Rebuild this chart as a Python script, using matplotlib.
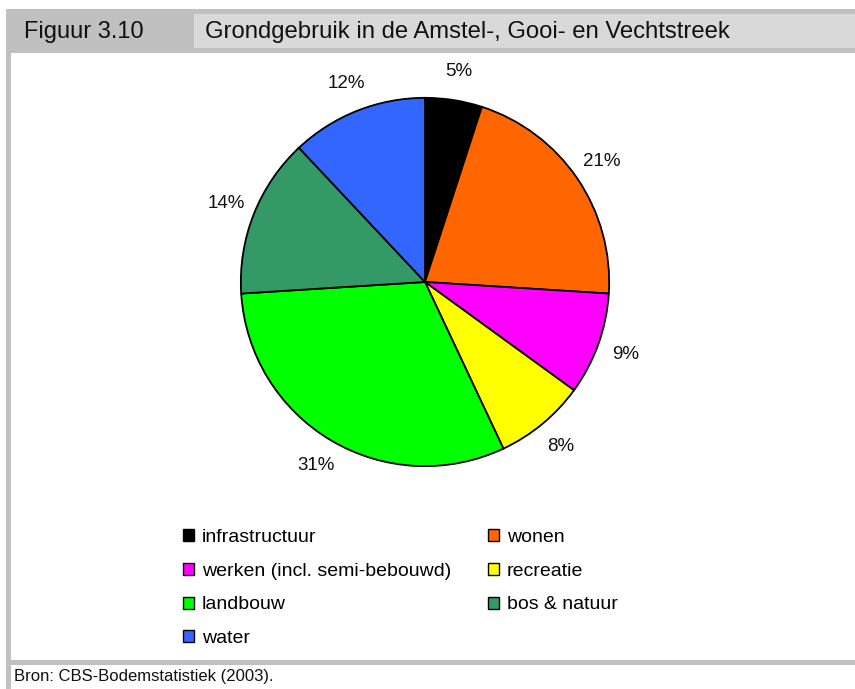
import matplotlib
matplotlib.use("Agg")
import matplotlib.pyplot as plt
from matplotlib.patches import Rectangle, Patch

# Land use shares (%)
categories = ["infrastructuur", "wonen", "werken (incl. semi-bebouwd)", "recreatie",
              "landbouw", "bos & natuur", "water"]
shares = [5, 21, 9, 8, 31, 14, 12]
colors = ["#000000", "#ff6600", "#ff00ff", "#ffff00", "#00ff00", "#339966", "#3366ff"]

W, H = 855, 689
fig = plt.figure(figsize=(W / 100, H / 100), dpi=100)
fig.patch.set_facecolor("white")


def px_rect(x0, y0, x1, y1, color):
    """Rectangle given in pixel coordinates measured from the top-left corner."""
    fig.patches.append(Rectangle((x0 / W, 1 - y1 / H), (x1 - x0) / W, (y1 - y0) / H,
                                 transform=fig.transFigure, facecolor=color,
                                 edgecolor="none", zorder=0))


sans = ["Liberation Sans", "DejaVu Sans"]

# Header band
px_rect(6, 9, W, 53, "#c0c0c0")
px_rect(194, 14, W, 48, "#d9d9d9")
fig.text(24 / W, 1 - 32 / H, "Figuur 3.10", family=sans, fontsize=17,
         va="center", ha="left", color="#111111")
fig.text(205 / W, 1 - 32 / H, "Grondgebruik in de Amstel-, Gooi- en Vechtstreek",
         family=sans, fontsize=17.2, va="center", ha="left", color="#111111")

# Frame lines
px_rect(6, 53, 11, 689, "#c0c0c0")
px_rect(6, 660, W, 665, "#c0c0c0")
fig.text(14 / W, 1 - 677 / H, "Bron: CBS-Bodemstatistiek (2003).", family=sans,
         fontsize=12, va="center", ha="left", color="#111111")

# Pie
cx, cy, r = 425, 282, 186
ax = fig.add_axes([(cx - r) / W, 1 - (cy + r) / H, 2 * r / W, 2 * r / H])
wedges, texts, autotexts = ax.pie(
    shares, colors=colors, startangle=90, counterclock=False, radius=1,
    autopct=lambda p: f"{p:.0f}%", pctdistance=1.16,
    wedgeprops=dict(edgecolor="black", linewidth=1.3),
    textprops=dict(fontsize=13.5, family=sans, color="#111111"))
ax.set_xlim(-1.01, 1.01)
ax.set_ylim(-1.01, 1.01)
ax.set_aspect("equal")
ax.axis("off")

# Legend, filled row by row across two columns
order = [0, 2, 4, 6, 1, 3, 5]
handles = [Patch(facecolor=colors[i], edgecolor="black", linewidth=1.0) for i in order]
labels = [categories[i] for i in order]
fig.legend(handles, labels, ncol=2, loc="upper left",
           bbox_to_anchor=(183 / W, 1 - 529 / H), frameon=False,
           prop=dict(family=sans, size=14), handlelength=0.57, handleheight=0.57,
           handletextpad=0.4, labelspacing=0.86, columnspacing=1.9,
           borderaxespad=0, borderpad=0)

fig.savefig("out.png", dpi=100)
